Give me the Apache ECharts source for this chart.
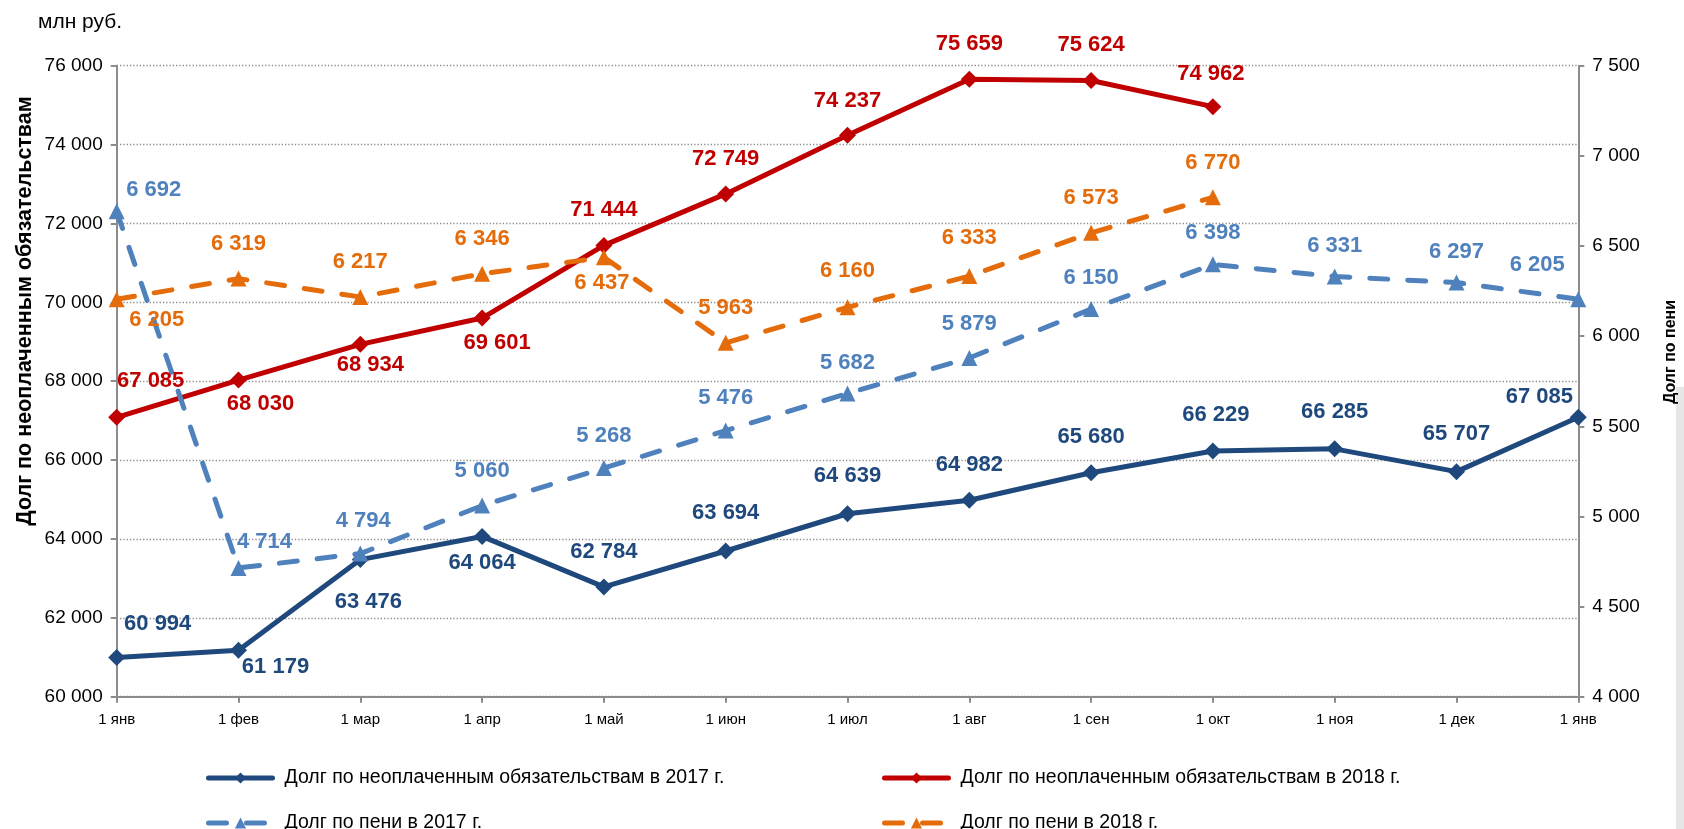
<!DOCTYPE html>
<html>
<head>
<meta charset="utf-8">
<script src="https://cdn.jsdelivr.net/npm/echarts@6/dist/echarts.min.js"></script>
<style>
html,body{margin:0;padding:0;background:#fff;}
#c{width:1684px;height:829px;}
</style>
</head>
<body>
<div id="c"></div>
<script>
const categories = ['1 янв','1 фев','1 мар','1 апр','1 май','1 июн','1 июл','1 авг','1 сен','1 окт','1 ноя','1 дек','1 янв'];
const debt2017 = [60994, 61179, 63476, 64064, 62784, 63694, 64639, 64982, 65680, 66229, 66285, 65707, 67085];
const debt2018 = [67085, 68030, 68934, 69601, 71444, 72749, 74237, 75659, 75624, 74962];
const peni2017 = [6692, 4714, 4794, 5060, 5268, 5476, 5682, 5879, 6150, 6398, 6331, 6297, 6205];
const peni2018 = [6205, 6319, 6217, 6346, 6437, 5963, 6160, 6333, 6573, 6770];
const seriesNames = [
  'Долг по неоплаченным обязательствам в 2017 г.',
  'Долг по неоплаченным обязательствам в 2018 г.',
  'Долг по пени в 2017 г.',
  'Долг по пени в 2018 г.'
];

// label placement (layout only)
const offD17 = [[41,-34],[37,17],[8,42],[0,27],[0,-35],[0,-38],[0,-38],[0,-35],[0,-36],[3,-36],[0,-37],[0,-38],[-39,-20]];
const offD18 = [[34,-36],[22,24],[10,21],[15,25],[0,-35],[0,-35],[0,-34],[0,-35],[0,-36],[-2,-33]];
const offP17 = [[37,-21],[26,-26],[3,-33],[0,-35],[0,-32],[0,-33],[0,-31],[0,-34],[0,-31],[0,-31],[0,-31],[0,-31],[-41,-34]];
const offP18 = [[40,21],[0,-35],[0,-35],[0,-35],[-2,26],[0,-35],[0,-36],[0,-38],[0,-35],[0,-34]];

const C_D17 = '#1F497D', C_D18 = '#C00000', C_P17 = '#4F81BD', C_P18 = '#E46C0A';
const FONT = "'Liberation Sans', Arial, sans-serif";
const fmt = v => String(v).replace(/\B(?=(\d{3})+(?!\d))/g, ' ');

function items(vals, offs) {
  return vals.map((v, i) => ({ value: v, label: { offset: offs[i] } }));
}
function mkSeries(name, vals, offs, color, yIdx, dashed, symbol) {
  return {
    name: name, type: 'line', yAxisIndex: yIdx,
    data: items(vals, offs),
    symbol: symbol, symbolSize: symbol === 'diamond' ? 17 : 16,
    itemStyle: { color: color },
    lineStyle: { color: color, width: 5, type: dashed ? [18, 20] : 'solid', cap: 'round', join: 'round' },
    label: {
      show: true, position: 'inside', color: color, fontFamily: FONT,
      fontWeight: 'bold', fontSize: 22, align: 'center', verticalAlign: 'middle',
      formatter: p => fmt(p.value)
    },
    emphasis: { disabled: true },
    z: 2
  };
}

const chart = echarts.init(document.getElementById('c'), null, { renderer: 'canvas' });
const legendCommon = {
  itemWidth: 64, itemHeight: 14, itemGap: 10,
  lineStyle: { width: 5 },
  textStyle: { fontFamily: FONT, fontSize: 19.5, color: '#000', padding: [0, 0, 0, 7] },
  selectedMode: false
};
chart.setOption({
  animation: false,
  backgroundColor: '#fff',
  grid: { left: 116.7, right: 105.7, top: 65.7, bottom: 132.3, containLabel: false },
  legend: [
    Object.assign({ data: [seriesNames[0]], left: 201, top: 763 }, legendCommon),
    Object.assign({ data: [seriesNames[1]], left: 877, top: 763 }, legendCommon),
    Object.assign({ data: [seriesNames[2]], left: 201, top: 808 }, legendCommon),
    Object.assign({ data: [seriesNames[3]], left: 877, top: 808 }, legendCommon)
  ],
  xAxis: {
    type: 'category', data: categories, boundaryGap: false,
    axisLine: { lineStyle: { color: '#8c8c8c', width: 2 } },
    axisTick: { show: true, length: 6, lineStyle: { color: '#8c8c8c', width: 2 } },
    axisLabel: { color: '#000', fontFamily: FONT, fontSize: 15, margin: 16, interval: 0 }
  },
  yAxis: [
    {
      type: 'value', min: 60000, max: 76000, interval: 2000, position: 'left',
      axisLine: { show: true, lineStyle: { color: '#8c8c8c', width: 2 } },
      axisTick: { show: true, length: 6, lineStyle: { color: '#8c8c8c', width: 2 } },
      axisLabel: { color: '#000', fontFamily: FONT, fontSize: 19, margin: 14, formatter: fmt },
      splitLine: { show: true, lineStyle: { color: '#8c8c8c', width: 1.3, type: [1.3, 2] } }
    },
    {
      type: 'value', min: 4000, max: 7500, interval: 500, position: 'right',
      axisLine: { show: true, lineStyle: { color: '#8c8c8c', width: 2 } },
      axisTick: { show: true, length: 6, lineStyle: { color: '#8c8c8c', width: 2 } },
      axisLabel: { color: '#000', fontFamily: FONT, fontSize: 19, margin: 14, formatter: fmt },
      splitLine: { show: false }
    }
  ],
  graphic: [
    { type: 'rect', shape: { x: 1676, y: 387, width: 8, height: 442 }, style: { fill: '#e6e6e6' }, z: 0 },
    { type: 'text', x: 38, y: 22, style: { text: 'млн руб.', font: "21px " + FONT, fill: '#000', verticalAlign: 'middle', align: 'left' } },
    { type: 'text', x: 25, y: 311, rotation: Math.PI / 2,
      style: { text: 'Долг по неоплаченным обязательствам', font: "bold 21.5px " + FONT, fill: '#000', align: 'center', verticalAlign: 'middle' } },
    { type: 'text', x: 1671, y: 352, rotation: Math.PI / 2, z: 10,
      style: { text: 'Долг по пени', font: "bold 16px " + FONT, fill: '#000', align: 'center', verticalAlign: 'middle' } }
  ],
  series: [
    mkSeries(seriesNames[0], debt2017, offD17, C_D17, 0, false, 'diamond'),
    mkSeries(seriesNames[1], debt2018, offD18, C_D18, 0, false, 'diamond'),
    mkSeries(seriesNames[2], peni2017, offP17, C_P17, 1, true, 'triangle'),
    mkSeries(seriesNames[3], peni2018, offP18, C_P18, 1, true, 'triangle')
  ]
});
</script>
</body>
</html>
